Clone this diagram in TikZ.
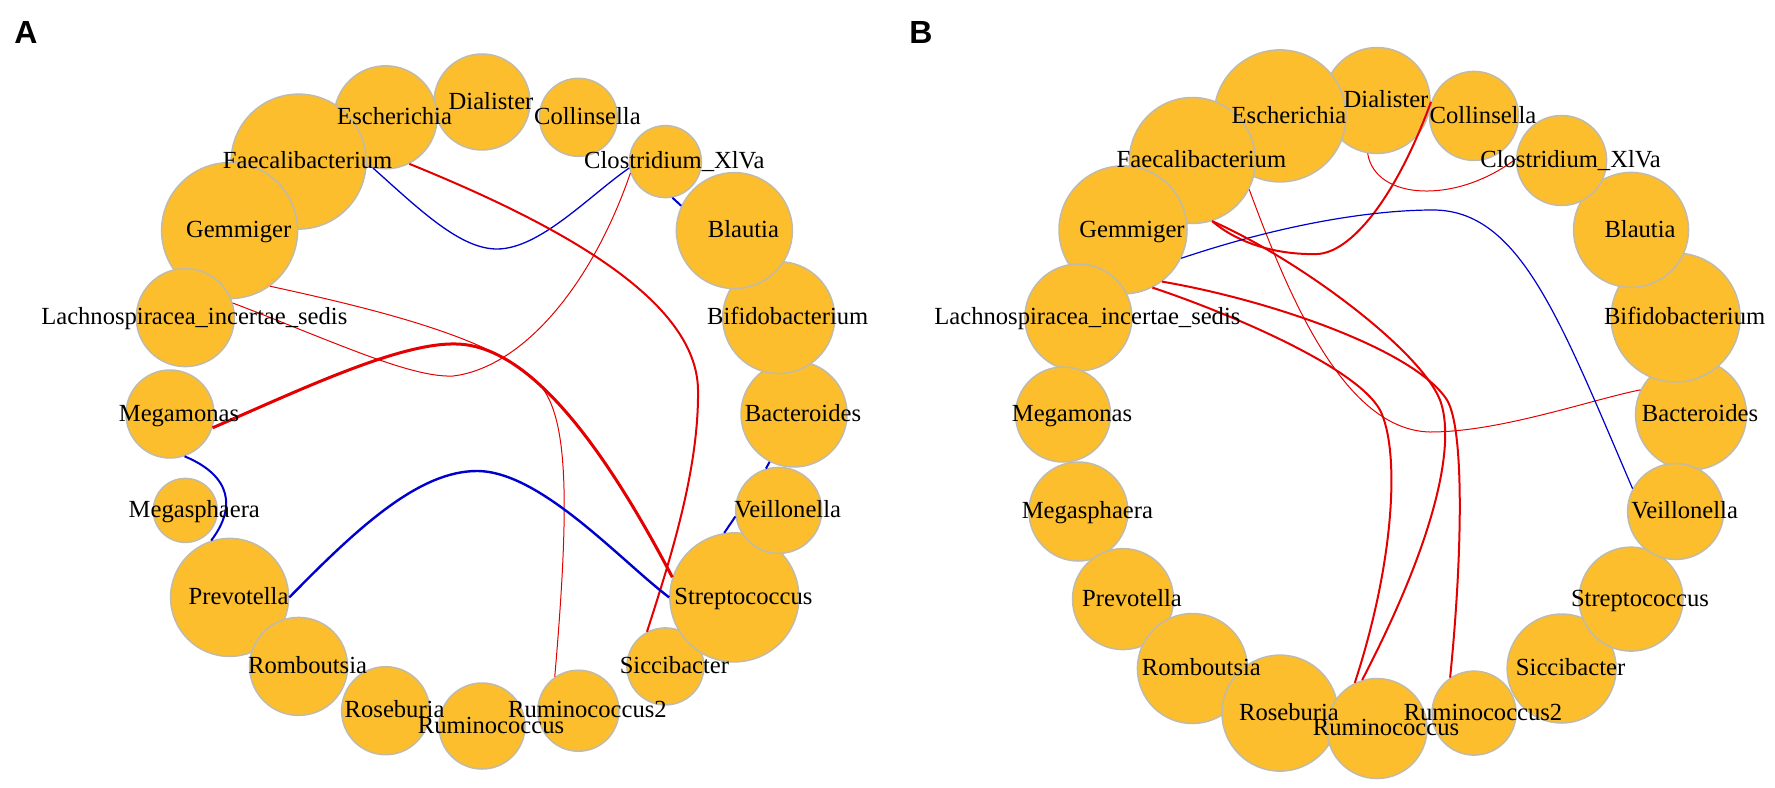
\documentclass[tikz,border=0pt]{standalone}
\usepackage{fontspec}
\setmainfont{Liberation Serif}
\newfontfamily\panelfont{Liberation Sans}
\usepackage{tikz}

\definecolor{nodefill}{RGB}{252,190,44}
\definecolor{nodeline}{RGB}{192,186,170}
\definecolor{edgered}{RGB}{228,0,0}
\definecolor{edgeblue}{RGB}{0,0,205}

\tikzset{
  taxon/.style={circle, draw=nodeline, fill=nodefill, line width=0.75pt, inner sep=0pt},
  taxlabel/.style={inner sep=0pt, text height=8.6pt, text depth=0pt,
    font=\fontsize{12.3}{14}\selectfont, xshift=4.5pt, yshift=0.75pt},
  posedge/.style={draw=edgered},
  negedge/.style={draw=edgeblue}
}

\begin{document}
\begin{tikzpicture}[x=0.5pt, y=-0.5pt]
    \useasboundingbox (0,0) rectangle (1775,787);

    % Panel A: genera on the ring
    \node[taxon, minimum size=53pt] (Abac) at (794,414) {};
    \node[taxon, minimum size=56pt] (Abif) at (778.7,317.6) {};
    \node[taxon, minimum size=58pt] (Abla) at (734.4,230.6) {};
    \node[taxon, minimum size=36pt] (Aclo) at (665.4,161.6) {};
    \node[taxon, minimum size=39pt] (Acol) at (578.4,117.3) {};
    \node[taxon, minimum size=48pt] (Adia) at (482,102) {};
    \node[taxon, minimum size=51.5pt] (Aesc) at (385.6,117.3) {};
    \node[taxon, minimum size=67.5pt] (Afae) at (298.6,161.6) {};
    \node[taxon, minimum size=68pt] (Agem) at (229.6,230.6) {};
    \node[taxon, minimum size=49pt] (Alac) at (185.3,317.6) {};
    \node[taxon, minimum size=44pt] (Amma) at (170,414) {};
    \node[taxon, minimum size=32pt] (Amsp) at (185.3,510.4) {};
    \node[taxon, minimum size=59pt] (Apre) at (229.6,597.4) {};
    \node[taxon, minimum size=49pt] (Arom) at (298.6,666.4) {};
    \node[taxon, minimum size=44pt] (Aros) at (385.6,710.7) {};
    \node[taxon, minimum size=43pt] (Arum) at (482,726) {};
    \node[taxon, minimum size=40.5pt] (Armt) at (578.4,710.7) {};
    \node[taxon, minimum size=38.5pt] (Asic) at (665.4,666.4) {};
    \node[taxon, minimum size=64.5pt] (Astr) at (734.4,597.4) {};
    \node[taxon, minimum size=43pt] (Avei) at (778.7,510.4) {};

    % Panel B: genera on the ring
    \node[taxon, minimum size=55.5pt] (Bbac) at (1691,414.5) {};
    \node[taxon, minimum size=64.5pt] (Bbif) at (1675.6,317.5) {};
    \node[taxon, minimum size=57.5pt] (Bbla) at (1631,229.9) {};
    \node[taxon, minimum size=45pt] (Bclo) at (1561.6,160.5) {};
    \node[taxon, minimum size=44.5pt] (Bcol) at (1474,115.9) {};
    \node[taxon, minimum size=53pt] (Bdia) at (1377,100.5) {};
    \node[taxon, minimum size=66pt] (Besc) at (1280,115.9) {};
    \node[taxon, minimum size=63pt] (Bfae) at (1192.4,160.5) {};
    \node[taxon, minimum size=64pt] (Bgem) at (1123,229.9) {};
    \node[taxon, minimum size=53.5pt] (Blac) at (1078.4,317.5) {};
    \node[taxon, minimum size=47.5pt] (Bmma) at (1063,414.5) {};
    \node[taxon, minimum size=49.5pt] (Bmsp) at (1078.4,511.5) {};
    \node[taxon, minimum size=50.5pt] (Bpre) at (1123,599.1) {};
    \node[taxon, minimum size=55pt] (Brom) at (1192.4,668.5) {};
    \node[taxon, minimum size=58pt] (Bros) at (1280,713.1) {};
    \node[taxon, minimum size=50pt] (Brum) at (1377,728.5) {};
    \node[taxon, minimum size=42pt] (Brmt) at (1474,713.1) {};
    \node[taxon, minimum size=54.5pt] (Bsic) at (1561.6,668.5) {};
    \node[taxon, minimum size=52pt] (Bstr) at (1631,599.1) {};
    \node[taxon, minimum size=48pt] (Bvei) at (1675.6,511.5) {};

    % Panel A: correlations
    \draw[negedge, line width=0.65pt] (Aesc.-104) .. controls (420,210) and (460,249) .. (497,249)
        .. controls (540,249) and (590,195) .. (Aclo.190);
    \draw[posedge, line width=1pt] (Aesc.-63) .. controls (560,225) and (697,300) .. (698,390)
        .. controls (699,470) and (670,560) .. (Asic.118);
    \draw[posedge, line width=0.5pt] (Alac.17) .. controls (330,340) and (410,378) .. (453,376)
        .. controls (520,368) and (590,290) .. (Aclo.198);
    \draw[posedge, line width=0.5pt] (Agem.-54) .. controls (380,310) and (500,340) .. (540,385)
        .. controls (568,418) and (570,500) .. (Armt.125);
    \draw[posedge, line width=1.5pt] (Amma.-18) .. controls (300,390) and (400,342) .. (457,344)
        .. controls (520,346) and (590,420) .. (Astr.162);
    \draw[negedge, line width=1pt] (Amma.-71) .. controls (232,476) and (236,508) .. (Apre.108);
    \draw[negedge, line width=1.2pt] (Apre.0) .. controls (360,525) and (420,471) .. (477,471)
        .. controls (540,471) and (620,560) .. (Astr.180);
    \draw[negedge, line width=1pt] (Aclo.-79) -- (Abla.155);
    \draw[negedge, line width=1pt] (Abac.-117) -- (Avei.107);
    \draw[negedge, line width=1pt] (Avei.188) -- (Astr.99);

    % Panel B: correlations
    \draw[posedge, line width=0.5pt] (Bdia.-100) .. controls (1375,200) and (1455,205) .. (Bclo.178);
    \draw[posedge, line width=1pt] (Bfae.-72) .. controls (1240,245) and (1280,255) .. (1317,254)
        .. controls (1350,253) and (1395,200) .. (Bcol.162);
    \draw[posedge, line width=0.5pt] (Bfae.-27) .. controls (1290,300) and (1345,430) .. (1430,432)
        .. controls (1500,432) and (1590,400) .. (Bbac.154);
    \draw[negedge, line width=0.6pt] (Bgem.-26) .. controls (1280,225) and (1370,210) .. (1433,210)
        .. controls (1520,210) and (1560,320) .. (Bvei.152);
    \draw[posedge, line width=1pt] (Bfae.-72) .. controls (1300,260) and (1420,350) .. (1440,400)
        .. controls (1455,440) and (1440,530) .. (Brum.107);
    \draw[posedge, line width=1pt] (Bgem.-53) .. controls (1270,300) and (1415,350) .. (1447,400)
        .. controls (1465,430) and (1462,560) .. (Brmt.124);
    \draw[posedge, line width=1pt] (Bgem.-63) .. controls (1220,310) and (1355,365) .. (1380,410)
        .. controls (1400,450) and (1395,560) .. (Brum.116);

    % Labels
    \foreach \p in {A,B} {
      \node[taxlabel] (\p bac-l) at (\p bac) {Bacteroides};
      \node[taxlabel] (\p bif-l) at (\p bif) {Bifidobacterium};
      \node[taxlabel] (\p bla-l) at (\p bla) {Blautia};
      \node[taxlabel] (\p clo-l) at (\p clo) {Clostridium\_XlVa};
      \node[taxlabel] (\p col-l) at (\p col) {Collinsella};
      \node[taxlabel] (\p dia-l) at (\p dia) {Dialister};
      \node[taxlabel] (\p esc-l) at (\p esc) {Escherichia};
      \node[taxlabel] (\p fae-l) at (\p fae) {Faecalibacterium};
      \node[taxlabel] (\p gem-l) at (\p gem) {Gemmiger};
      \node[taxlabel] (\p lac-l) at (\p lac) {Lachnospiracea\_incertae\_sedis};
      \node[taxlabel] (\p mma-l) at (\p mma) {Megamonas};
      \node[taxlabel] (\p msp-l) at (\p msp) {Megasphaera};
      \node[taxlabel] (\p pre-l) at (\p pre) {Prevotella};
      \node[taxlabel] (\p rom-l) at (\p rom) {Romboutsia};
      \node[taxlabel] (\p ros-l) at (\p ros) {Roseburia};
      \node[taxlabel] (\p rum-l) at (\p rum) {Ruminococcus};
      \node[taxlabel] (\p rmt-l) at (\p rmt) {Ruminococcus2};
      \node[taxlabel] (\p sic-l) at (\p sic) {Siccibacter};
      \node[taxlabel] (\p str-l) at (\p str) {Streptococcus};
      \node[taxlabel] (\p vei-l) at (\p vei) {Veillonella};
    }

    % Panel letters
    \node[font=\panelfont\bfseries\fontsize{16}{16}\selectfont, inner sep=0pt] (tagA) at (26,32) {A};
    \node[font=\panelfont\bfseries\fontsize{16}{16}\selectfont, inner sep=0pt] (tagB) at (921,32) {B};
\end{tikzpicture}
\end{document}
